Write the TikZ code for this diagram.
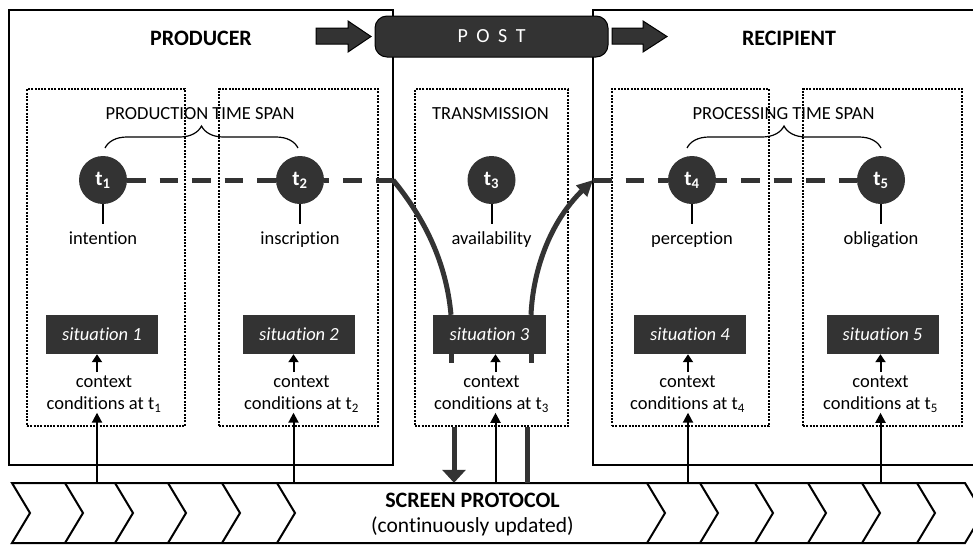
\documentclass[tikz,border=0pt]{standalone}
\usepackage{fontspec}
\setmainfont{Carlito}[Ligatures={NoCommon}]
\usetikzlibrary{arrows.meta,decorations.pathreplacing}
\definecolor{dk}{RGB}{51,51,51}
\begin{document}
\begin{tikzpicture}[x=1pt,y=-1pt,
  frame/.style={draw=black,line width=2.2pt,inner sep=0pt},
  dotbox/.style={draw=black,line width=2.3pt,dash pattern=on 2pt off 1.3pt,inner sep=0pt,minimum height=337pt,minimum width=#1},
  postbox/.style={rounded corners=12pt,fill=dk,draw=black,line width=1pt,minimum width=233pt,minimum height=41pt,inner sep=0pt,text=white,font=\fontsize{20}{20}\selectfont},
  bigarr/.style={fill=dk,draw=black,line width=1pt},
  title/.style={font=\fontsize{22}{22}\selectfont\bfseries,inner sep=0pt},
  txt/.style={font=\fontsize{18.5}{22}\selectfont,inner sep=0pt},
  lbl/.style={txt,outer sep=7pt},
  ctx/.style={txt,align=center},
  tnode/.style={circle,fill=dk,minimum size=48pt,inner sep=0pt,text=white,font=\fontsize{21}{21}\selectfont\bfseries},
  sitbox/.style={fill=dk,minimum width=#1,minimum height=39pt,inner sep=0pt,text=white,font=\fontsize{18.5}{22}\selectfont\itshape},
  sitbox/.default=112pt,
  brc/.style={draw=black,line width=1.2pt,decorate,decoration={brace,amplitude=22pt}},
  thk/.style={draw=dk,line width=5pt},
  dsh/.style={thk,dash pattern=on 18.5pt off 14pt},
  stem/.style={draw=black,line width=2pt},
  sarr/.style={draw=black,line width=2pt,-{Triangle[length=8pt,width=10pt]}},
  larr/.style={draw=black,line width=2pt,-{Triangle[length=10pt,width=10pt]}},
  band/.style={draw=black,line width=2pt,line join=miter}
]
\useasboundingbox (0,0) rectangle (973,544);
\clip (0,0) rectangle (973,544);

% frames
\node[frame,minimum width=384pt,minimum height=455pt] (pbox) at (201,237.5) {};
\node[frame,minimum width=392pt,minimum height=455pt] (rbox) at (789,237.5) {};

% dotted boxes
\node[dotbox=158pt] (d1) at (106,257.5) {};
\node[dotbox=159pt] (d2) at (298.5,257.5) {};
\node[dotbox=153pt] (d3) at (491.5,257.5) {};
\node[dotbox=157pt] (d4) at (690.5,257.5) {};
\node[dotbox=159pt] (d5) at (882.5,257.5) {};

% post
\node[postbox] (post) at (491.5,36.5) {P\hspace{8.5pt}O\hspace{8.5pt}S\hspace{8.5pt}T};
\draw[bigarr] (316,28) -- (348,28) -- (348,21) -- (371,36.5) -- (348,52) -- (348,44) -- (316,44) -- cycle;
\draw[bigarr] (612,28) -- (643,28) -- (643,21) -- (667,36.5) -- (643,52) -- (643,44) -- (612,44) -- cycle;

% titles
\node[title,anchor=base] (prod) at (201,45) {PRODUCER};
\node[title,anchor=base] (rec) at (789,45) {RECIPIENT};
\node[txt,anchor=base] (ps) at (200,119) {PRODUCTION TIME SPAN};
\node[txt,anchor=base] (tr) at (490.5,119) {TRANSMISSION};
\node[txt,anchor=base] (pr) at (783.5,119) {PROCESSING TIME SPAN};

% braces
\draw[brc] (105,148) -- (298,148);
\draw[brc] (687,148) -- (881,148);

% time points
\node[tnode] (t1) at (103,180) {t\textsubscript{1}};
\node[tnode] (t2) at (300,180) {t\textsubscript{2}};
\node[tnode] (t3) at (491.5,180) {t\textsubscript{3}};
\node[tnode] (t4) at (692,180) {t\textsubscript{4}};
\node[tnode] (t5) at (881,180) {t\textsubscript{5}};

\node[lbl,anchor=base] (l1) at (103,244) {intention};
\node[lbl,anchor=base] (l2) at (300,244) {inscription};
\node[lbl,anchor=base] (l3) at (491.5,244) {availability};
\node[lbl,anchor=base] (l4) at (692,244) {perception};
\node[lbl,anchor=base] (l5) at (881,244) {obligation};
\foreach \i in {1,...,5} \draw[stem] (t\i) -- (l\i);

% situations
\node[sitbox] (s1) at (102,334.5) {situation 1};
\node[sitbox] (s2) at (299,334.5) {situation 2};
\node[sitbox=113pt] (s3) at (489.5,334.5) {situation 3};
\node[sitbox] (s4) at (690,334.5) {situation 4};
\node[sitbox] (s5) at (882.5,334.5) {situation 5};

% context
\node[ctx,anchor=north] (c1) at (104,376) {context\\conditions at t\textsubscript{1}};
\node[ctx,anchor=north] (c2) at (301.5,376) {context\\conditions at t\textsubscript{2}};
\node[ctx,anchor=north] (c3) at (491.5,376) {context\\conditions at t\textsubscript{3}};
\node[ctx,anchor=north] (c4) at (687.5,376) {context\\conditions at t\textsubscript{4}};
\node[ctx,anchor=north] (c5) at (880.5,376) {context\\conditions at t\textsubscript{5}};

% screen protocol band
\draw[band] (12,483) -- (965,483) -- (983,513) -- (965,543) -- (12,543) -- (30,513) -- cycle;
\foreach \x in {65,115,168,222,277,647,700,755,808,862,917}
  \draw[band] (\x,483) -- (\x+18,513) -- (\x,543);
\node[minimum width=953pt,minimum height=60pt,inner sep=0pt] (prot) at (488.5,513) {};
\node[title,anchor=base] (sp1) at (472.5,507) {SCREEN PROTOCOL};
\node[txt,font=\fontsize{21.5}{22}\selectfont,anchor=base] (sp2) at (472.5,532) {(continuously updated)};

% coordinates
\coordinate (j1) at (393,180);
\coordinate (j2) at (593,180);
\coordinate (cl) at (451,0);
\coordinate (cr) at (531,0);
\coordinate (b1) at (454,0);
\coordinate (b2) at (527,0);
\coordinate (a1) at (97,0);
\coordinate (a2) at (293.5,0);
\coordinate (a3) at (495.5,0);
\coordinate (a4) at (688,0);
\coordinate (a5) at (880.5,0);

% time line
\draw[dsh] (t1) -- (t2);
\draw[dsh,dash phase=13.5pt] (t2) -- (j1);
\draw[thk] (j1) .. controls (430,225) and (447,270) .. (s3.north -| cl);
\draw[thk,-{Triangle[length=16pt,width=15pt]}] (s3.north -| cr) .. controls (533,270) and (550,222) .. (j2);
\draw[dsh] (j2) -- (t4);
\draw[dsh,dash phase=7.5pt] (t4) -- (t5);
\draw[thk] (s3.south -| cl) -- ++(0,9);
\draw[thk] (s3.south -| cr) -- ++(0,9);
\draw[thk,-{Triangle[length=13pt,width=23pt]}] (d3.south -| b1) -- (prot.north -| b1);
\draw[thk] (prot.north -| b2) -- (d3.south -| b2);

% context arrows
\foreach \i in {1,...,5} {
  \draw[sarr,shorten <=4pt] (c\i.north -| a\i) -- (s\i.south -| a\i);
  \draw[larr] (prot.north -| a\i) -- (c\i.south -| a\i);
}
\end{tikzpicture}
\end{document}
